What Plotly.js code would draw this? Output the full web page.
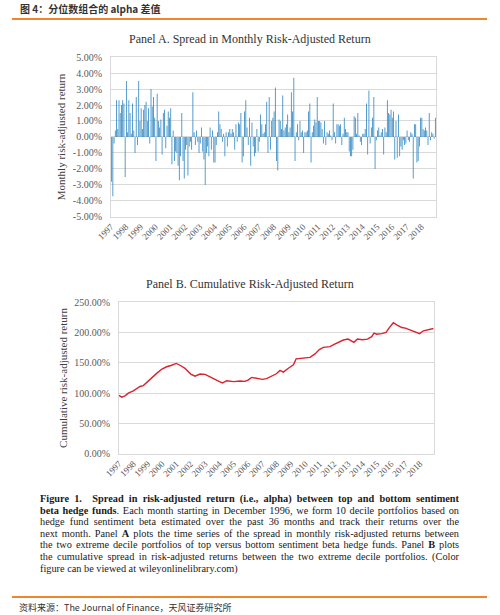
<!DOCTYPE html>
<html><head><meta charset="utf-8">
<script src="https://cdn.plot.ly/plotly-3.0.1.min.js"></script>
<style>
body{margin:0;background:#fff;width:500px;height:615px;overflow:hidden;position:relative;}
#chart{position:absolute;left:0;top:0;width:500px;height:615px;}
.hdr{position:absolute;left:20px;top:2px;font-family:"Noto Sans CJK SC";font-weight:bold;font-size:10px;color:#333;line-height:14px;white-space:nowrap;}
.rule{position:absolute;left:12px;width:475px;height:2px;background:#f0862a;}
.cap{position:absolute;left:40px;top:493px;width:419px;font-family:"Liberation Serif",serif;font-size:10.3px;line-height:11.6px;color:#1a1a1a;}
.cap div{white-space:nowrap;text-align:justify;text-align-last:justify;}
.cap div.last{text-align-last:left;}
.src{position:absolute;left:19px;top:601px;font-family:"Noto Sans CJK SC";font-size:9px;color:#333;line-height:13px;white-space:nowrap;}
</style></head><body>
<div id="chart"></div>
<div class="hdr">图 4：分位数组合的 alpha 差值</div>
<div class="rule" style="top:18px"></div>
<div class="cap">
<div><b>Figure 1.&nbsp; Spread in risk-adjusted return (i.e., alpha) between top and bottom sentiment</b></div>
<div><b>beta hedge funds</b>. Each month starting in December 1996, we form 10 decile portfolios based on</div>
<div>hedge fund sentiment beta estimated over the past 36 months and track their returns over the</div>
<div>next month. Panel <b>A</b> plots the time series of the spread in monthly risk-adjusted returns between</div>
<div>the two extreme decile portfolios of top versus bottom sentiment beta hedge funds. Panel <b>B</b> plots</div>
<div>the cumulative spread in risk-adjusted returns between the two extreme decile portfolios. (Color</div>
<div class="last">figure can be viewed at wileyonlinelibrary.com)</div>
</div>
<div class="rule" style="top:596px"></div>
<div class="src">资料来源：The Journal of Finance，天风证券研究所</div>
<script>
const years = [1997,1998,1999,2000,2001,2002,2003,2004,2005,2006,2007,2008,2009,2010,2011,2012,2013,2014,2015,2016,2017,2018];
const yearLabels = ['1997','1998','1999','2000','2001','2002','2003','2004','2005','2006','2007','2008','2009','2010','2011','2012','2013','2014','2015','2016','2017','2018'];

// Panel A: monthly spread (%), Jan 1997 .. Dec 2018
const monthlySpread = [
 -2.8,-3.7,-0.4, 0.4, 2.3, 0.5, 2.3, 1.5, 2.0, 2.3, 2.1,-2.5, // 1997
  3.5, 0.3, 2.3, 1.5, 0.2, 2.1, 0.4,-1.0, 2.5,-0.5, 3.5, 1.0, // 1998
  1.8, 0.5, 1.7, 2.0, 2.2, 1.0, 1.8,-0.4, 3.0, 1.9, 2.5, 1.2, // 1999
 -1.5, 2.7, 1.0, 0.6, 1.1,-1.1, 1.5, 1.7,-0.7, 0.7, 1.6, 1.2, // 2000
  1.8,-1.7, 0.4,-1.5,-0.9,-1.0,-1.8,-2.7,-1.2, 1.5,-1.5,-2.6, // 2001
 -0.8,-0.5,-2.4,-0.6,-0.3,-0.8, 2.8, 0.3,-0.5, 0.4,-0.3,-1.0, // 2002
 -0.4, 0.6,-0.9,-1.4,-3.0,-1.0,-0.6,-1.2, 0.6,-0.8, 0.4,-1.6, // 2003
 -1.6,-0.5, 0.3, 1.6, 0.8, 0.5,-0.3, 0.2,-1.2, 0.3,-0.6, 0.3, // 2004
  0.5, 0.2, 0.5, 0.3,-0.8, 0.8,-0.3, 0.9, 0.8, 1.5,-1.6,-1.2, // 2005
  1.6, 2.3, 0.6,-0.5, 1.2,-1.8, 0.9,-0.6,-1.2,-1.0, 0.5,-0.9, // 2006
 -0.3, 1.4, 0.8, 0.2, 0.3, 0.8, 2.2,-1.0, 2.5,-0.8, 1.0, 1.2, // 2007
  1.6, 3.1,-1.5,-2.1, 1.1, 1.0, 0.5, 2.6, 0.4, 0.6, 0.8, 1.4, // 2008
  0.3, 0.6, 2.8, 1.6, 3.7,-1.5, 0.3, 0.8,-0.2, 1.0, 0.3, 0.4, // 2009
 -1.0, 0.3, 0.3, 0.4, 1.6, 2.1,-1.6, 0.3, 0.7, 1.1, 0.9, 2.5, // 2010
  1.0, 1.0, 0.9, 0.5,-0.4, 1.0,-0.5, 0.3, 0.2, 0.4, 0.1,-0.2, // 2011
  2.1, 0.3,-0.4, 0.8, 0.8, 0.7, 0.8,-0.5, 0.2, 1.2, 0.5, 0.3, // 2012
  0.3,-0.9,-1.2,-1.2,-0.8, 1.3, 1.2, 0.2, 1.5, 0.1,-0.3,-0.5, // 2013
  0.2, 0.2, 0.5, 2.1,-1.1, 2.9,-0.4, 0.6, 1.2, 2.5,-2.0,-0.2, // 2014
  0.4, 0.6, 0.1, 0.3, 0.5,-1.1, 0.6, 0.3, 2.3, 1.5, 1.4, 1.7, // 2015
  1.2, 1.6,-1.4, 1.0,-1.3, 1.4,-1.2,-0.6,-0.8,-0.2,-0.5,-0.4, // 2016
  0.4,-0.2,-0.3, 0.3, 0.2,-2.6, 0.8, 0.8,-1.6,-1.5,-0.6, 1.2, // 2017
  1.2, 0.5, 0.4, 0.6, 0.4,-0.5, 1.5,-0.2, 0.3, 0.2,-0.1, 1.2  // 2018
];

// Panel B: cumulative spread (%), read at these dates (decimal years)
const cumDates = [1997.00,1997.19,1997.42,1997.65,1998.00,1998.23,1998.47,1998.70,1999.00,1999.28,1999.63,2000.00,2000.33,2000.68,2001.00,2001.26,2001.61,2002.01,2002.31,2002.66,2003.01,2003.36,2003.71,2004.01,2004.24,2004.52,2005.01,2005.45,2005.80,2006.01,2006.27,2006.62,2007.00,2007.31,2007.66,2007.99,2008.25,2008.48,2008.83,2008.99,2009.18,2009.37,2009.65,2010.00,2010.34,2010.69,2010.99,2011.27,2011.74,2011.99,2012.32,2012.67,2013.00,2013.41,2013.65,2014.00,2014.35,2014.65,2014.81,2015.00,2015.35,2015.65,2015.88,2016.16,2016.40,2016.75,2017.00,2017.33,2017.68,2018.00,2018.26,2018.61,2018.96];
const cumValues = [96.5,93.5,95.6,100,104,108,111,112.5,119,126,132.6,139.7,143.5,146,149,146,141,131.5,128,131.5,131,127,122,119,117,120.6,119,120,119.5,121.7,126,124,122.8,124,127.7,132,137.5,134.8,141,143,146.7,156.5,157,158,159,164.7,171.7,175.5,176.6,180,183.7,187.5,189,183.7,189,188,189,193,199,197,198,200,208,216,212.5,208,207,204,200,198,202.7,204,206.5];

const aTickVals = [-5,-4,-3,-2,-1,0,1,2,3,4,5];
const aTickText = ['-5.00%','-4.00%','-3.00%','-2.00%','-1.00%','0.00%','1.00%','2.00%','3.00%','4.00%','5.00%'];
const bTickVals = [0,50,100,150,200,250];
const bTickText = ['0.00%','50.00%','100.00%','150.00%','200.00%','250.00%'];

const barX = monthlySpread.map((v,i) => years[Math.floor(i/12)] + (i%12 + 0.5)/12);

const grid = '#d9d9d9';
const tickC = '#595959';
const serif = '"Liberation Serif", "Times New Roman", serif';

const traces = [
  {type:'bar', x:barX, y:monthlySpread, xaxis:'x', yaxis:'y', marker:{color:'#3a8ec6', line:{width:0}}, hoverinfo:'skip'},
  {type:'scatter', mode:'lines', x:cumDates, y:cumValues, xaxis:'x2', yaxis:'y2', line:{color:'#d9232e', width:1.4}, hoverinfo:'skip'}
];

function xax(domain, anchor){
  return {domain:domain, anchor:anchor, range:[1997,2019], tickvals:years, ticktext:yearLabels, tickangle:-45,
    tickfont:{size:9, color:tickC, family:serif}, showgrid:false, zeroline:false, showline:true, mirror:true,
    linecolor:grid, linewidth:1, ticks:'', fixedrange:true};
}
function yax(domain, anchor, range, tv, tt, title){
  return {domain:domain, anchor:anchor, range:range, tickvals:tv, ticktext:tt, tickfont:{size:10, color:tickC, family:serif},
    showgrid:true, gridcolor:grid, gridwidth:1, zeroline:false, showline:true, mirror:true, linecolor:grid, linewidth:1,
    ticks:'', ticklabelstandoff:6, fixedrange:true,
    title:{text:title, font:{size:11, color:'#404040', family:serif}, standoff:4}};
}

const layout = {
  width:500, height:615, margin:{l:0,r:0,t:0,b:0},
  paper_bgcolor:'rgba(0,0,0,0)', plot_bgcolor:'#ffffff',
  showlegend:false, bargap:0.3,
  font:{family:serif, color:tickC, size:10},
  xaxis: xax([0.222,0.872],'y'),
  yaxis: yax([0.6472,0.9073],'x',[-5,5],aTickVals,aTickText,'Monthly risk-adjusted return'),
  xaxis2: xax([0.238,0.868],'y2'),
  yaxis2: yax([0.2618,0.5089],'x2',[0,250],bTickVals,bTickText,'Cumulative risk-adjusted return'),
  annotations:[
    {text:'Panel A. Spread in Monthly Risk-Adjusted Return', xref:'paper', yref:'paper', x:0.5, y:1-39/615,
     xanchor:'center', yanchor:'middle', showarrow:false, font:{size:12, color:'#333', family:serif}},
    {text:'Panel B. Cumulative Risk-Adjusted Return', xref:'paper', yref:'paper', x:0.5, y:1-284/615,
     xanchor:'center', yanchor:'middle', showarrow:false, font:{size:12, color:'#333', family:serif}}
  ]
};

Plotly.newPlot('chart', traces, layout, {staticPlot:true, displayModeBar:false});
</script>
</body></html>
